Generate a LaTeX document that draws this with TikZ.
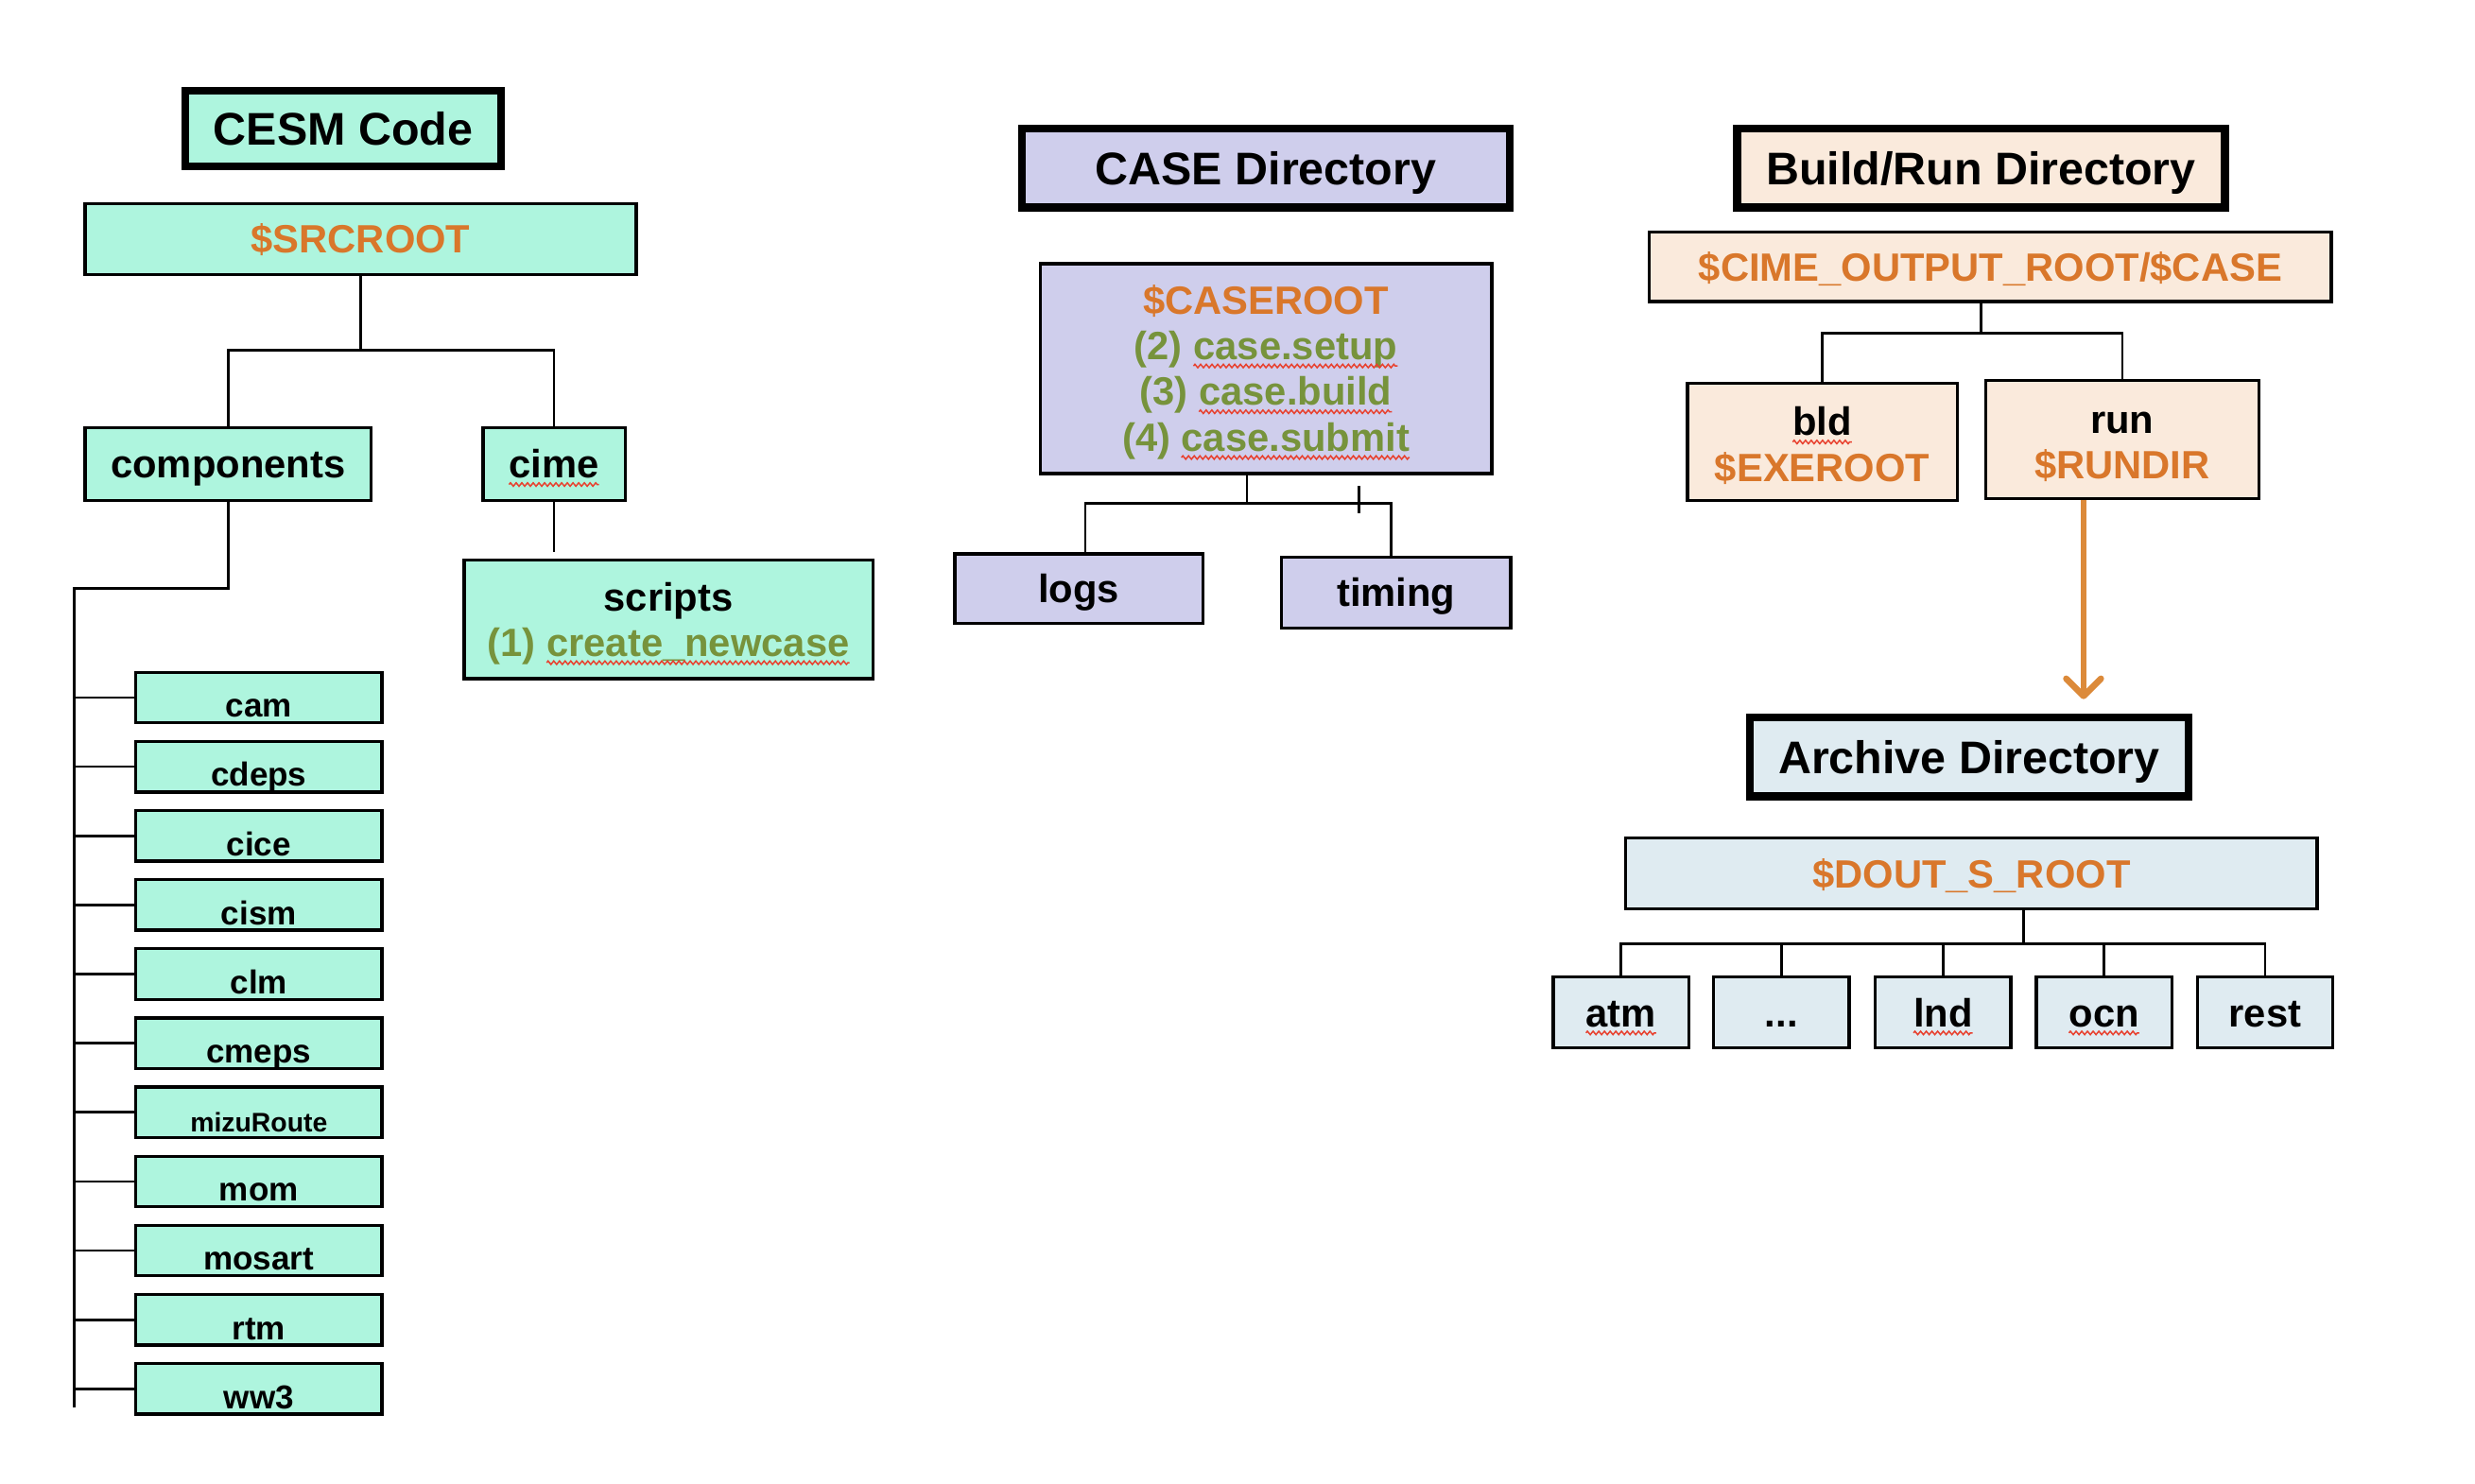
\documentclass[tikz,border=0pt]{standalone}
\usepackage{fontspec}
\setmainfont{Liberation Sans}
\usetikzlibrary{arrows.meta,decorations.pathmorphing}
\definecolor{cesmfill}{HTML}{AEF5DE}
\definecolor{casefill}{HTML}{CFCEEC}
\definecolor{bldfill}{HTML}{FAEADC}
\definecolor{archfill}{HTML}{DFEBF1}
\definecolor{varorange}{HTML}{D9772B}
\definecolor{stepgreen}{HTML}{77933C}
\definecolor{floworange}{HTML}{DC8A3A}
\definecolor{spellred}{HTML}{E8412F}
\newcommand{\SpineX}{47}
\newcommand{\CompX}{164}
\newcommand{\CompTop}{442}
\newcommand{\CompStep}{43.8}
\newcommand{\TopStrut}{\rule{0pt}{23pt}}
% red spell-check wave under a word
\newcommand{\spell}[1]{\tikz[baseline=(w.base),x=1pt,y=1pt]{%
  \node[inner sep=0pt, outer sep=0pt, draw=none, fill=none, align=none, text height={}, text depth={},
    minimum width=0pt, minimum height=0pt] (w) {#1};
  \draw[overlay, spellred, line width=0.9pt, decorate, decoration={zigzag, amplitude=1.1pt, segment length=3.6pt}]
    ([yshift=-4pt]w.base west) -- ([yshift=-4pt]w.base east);}}

\begin{document}
\begin{tikzpicture}[x=1pt,y=-1pt,
  title/.style={draw, line width=5pt, inner sep=0pt, font=\fontsize{29}{34}\selectfont\bfseries, text height=21pt, text depth=0pt},
  dirbox/.style={draw, line width=2pt, inner sep=0pt, align=center, font=\fontsize{25}{29}\selectfont\bfseries},
  single/.style={dirbox, text height=18pt, text depth=0pt},
  comp/.style={draw, line width=2pt, inner sep=0pt, fill=cesmfill, minimum width=156, minimum height=32, text height=25pt, text depth=0pt},
  link/.style={line width=1.6pt},
  flow/.style={floworange, line width=4pt, -{Straight Barb[length=11pt, width=22pt, round]}}
]
\useasboundingbox (0,0) rectangle (1568,940);

% ----- CESM code tree -----
\node[title, fill=cesmfill, minimum width=200, minimum height=48] (cesmtitle) at (217.5,81.5) {CESM Code};
\node[single, fill=cesmfill, text=varorange, minimum width=349, minimum height=45] (srcroot) at (228.5,151.5) {\$SRCROOT};
\node[single, fill=cesmfill, minimum width=181, minimum height=46] (components) at (144.5,294) {components};
\node[single, fill=cesmfill, minimum width=90, minimum height=46] (cime) at (351,294) {\spell{cime}};
\node[dirbox, fill=cesmfill, minimum width=259, minimum height=75] (scripts) at (423.5,392.5)
  {\TopStrut scripts\\ \textcolor{stepgreen}{(1) \spell{create\_newcase}}};

\coordinate (srcbus) at (228.5,222);
\draw[link] (srcroot.south) -- (srcbus) -| (components.north);
\draw[link] (srcbus) -| (cime.north);
\draw[link] (cime.south) -- ([yshift=4pt]cime.south |- scripts.north);

\coordinate (spinetop) at (\SpineX,373);
\coordinate (spinebot) at (\SpineX,892);
\draw[link] (components.south) |- (spinetop) -- (spinebot);

\foreach \nm/\fs [count=\i from 0] in {cam/21,cdeps/21,cice/21,cism/21,clm/21,cmeps/21,mizuRoute/17,mom/21,mosart/21,rtm/21,ww3/21} {
  \node[comp, font=\fontsize{\fs}{\fs}\selectfont\bfseries] (c\nm) at (\CompX,{\CompTop+\CompStep*\i}) {\nm};
  \draw[link] (spinetop |- c\nm.west) -- (c\nm.west);
}

% ----- CASE directory -----
\node[title, fill=casefill, minimum width=309, minimum height=50] (casetitle) at (802,106.5) {CASE Directory};
\node[dirbox, fill=casefill, text=stepgreen, minimum width=286, minimum height=133] (caseroot) at (802,233.5)
  {\TopStrut\textcolor{varorange}{\$CASEROOT}\\ (2) \spell{case.setup}\\ (3) \spell{case.build}\\ (4) \spell{case.submit}};
\node[single, fill=casefill, minimum width=157, minimum height=44] (logs) at (683.5,373) {logs};
\node[single, fill=casefill, minimum width=145, minimum height=45] (timing) at (884.5,375.5) {timing};

\coordinate (casebus) at (790,319);
\draw[link] (caseroot.south -| casebus) -- (casebus) -| ([xshift=4pt]logs.north);
\draw[link] (casebus) -| ([xshift=-3pt]timing.north);
\draw[link] (861,308) -- (861,325);

% ----- Build/Run directory -----
\node[title, fill=bldfill, minimum width=309, minimum height=50] (bldtitle) at (1255,106.5) {Build/Run Directory};
\node[single, fill=bldfill, text=varorange, minimum width=432, minimum height=44] (outroot) at (1261,169) {\$CIME\_OUTPUT\_ROOT/\$CASE};
\node[dirbox, fill=bldfill, minimum width=171, minimum height=74] (bld) at (1154.5,280) {\TopStrut\spell{bld}\\ \textcolor{varorange}{\$EXEROOT}};
\node[dirbox, fill=bldfill, minimum width=173, minimum height=75] (run) at (1344.5,278.5) {\TopStrut run\\ \textcolor{varorange}{\$RUNDIR}};

\coordinate (bldbus) at (1255,211);
\draw[link] (outroot.south -| bldbus) -- (bldbus) -| (bld.north);
\draw[link] (bldbus) -| (run.north);

\coordinate (archtip) at (1320,443);
\draw[flow] ([xshift=-24.5pt]run.south) -- (archtip);

% ----- Archive directory -----
\node[title, fill=archfill, minimum width=278, minimum height=50] (archtitle) at (1247.5,479.5) {Archive Directory};
\node[single, fill=archfill, text=varorange, minimum width=438, minimum height=45] (doutroot) at (1249,553.5) {\$DOUT\_S\_ROOT};

\coordinate (doutbus) at (1282,598);
\draw[link] (doutroot.south -| doutbus) -- (doutbus);
\foreach \nm/\txt/\xx in {atm/{\spell{atm}}/1027, dots/{...}/1128.5, lnd/{\spell{lnd}}/1231, ocn/{\spell{ocn}}/1333, rest/{rest}/1435} {
  \node[single, fill=archfill, minimum width=86, minimum height=45] (a\nm) at (\xx,641.5) {\txt};
  \draw[link] (doutbus) -| (a\nm.north);
}

\end{tikzpicture}
\end{document}
